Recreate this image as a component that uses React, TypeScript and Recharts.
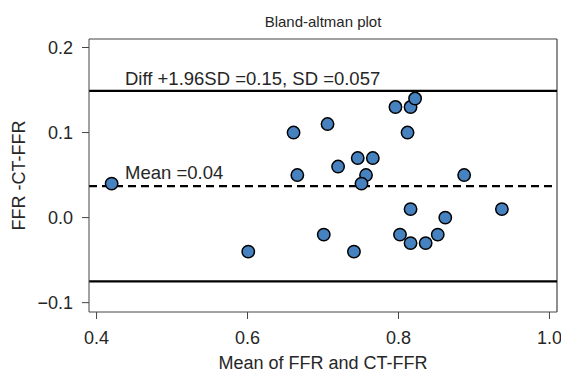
import React from 'react';
import {
  ScatterChart,
  Scatter,
  XAxis,
  YAxis,
  ReferenceLine,
} from 'recharts';

// Mean of FFR and CT-FFR
const meanValues = [
  0.42, 0.661, 0.706, 0.796, 0.816, 0.822, 0.812, 0.746, 0.766, 0.72, 0.666, 0.757,
  0.751, 0.887, 0.816, 0.937, 0.862, 0.701, 0.802, 0.852, 0.816, 0.836, 0.601, 0.741,
];
// FFR - CT-FFR
const diffValues = [
  0.04, 0.1, 0.11, 0.13, 0.13, 0.14, 0.1, 0.07, 0.07, 0.06, 0.05, 0.05,
  0.04, 0.05, 0.01, 0.01, 0.0, -0.02, -0.02, -0.02, -0.03, -0.03, -0.04, -0.04,
];

const meanDiff = 0.037;
const upperLimit = 0.149;
const lowerLimit = -0.075;

const xTicks = [0.4, 0.6, 0.8, 1.0];
const yTicks = [-0.1, 0.0, 0.1, 0.2];
const xDomain = [0.39, 1.01];
const yDomain = [-0.111, 0.21];

const titleText = 'Bland-altman plot';
const xLabel = 'Mean of FFR and CT-FFR';
const yLabel = 'FFR -CT-FFR';
const upperText = 'Diff +1.96SD =0.15, SD =0.057';
const meanText = 'Mean =0.04';

const data = meanValues.map((m, i) => ({ x: m, y: diffValues[i] }));

const FONT = '"Liberation Sans", Arial, Helvetica, sans-serif';
const TEXT = '#262626';
const AXIS = '#444444';
const FS = 18;

const fmtY = (v: number) => (v < 0 ? '\u2212' + Math.abs(v).toFixed(1) : v.toFixed(1));
const fmtX = (v: number) => v.toFixed(1);

const Dot = (p: any) => (
  <circle cx={p.cx} cy={p.cy} r={6.2} fill="#4682c0" stroke="#000" strokeWidth={1.5} />
);

export default function App() {
  return (
    <div style={{ position: 'absolute', left: 0, top: 0, width: 561, height: 373, background: '#fff' }}>
      <ScatterChart
        width={561}
        height={373}
        margin={{ top: 39, right: 4, bottom: 0, left: 0 }}
        style={{ fontFamily: FONT }}
      >
        <XAxis
          type="number"
          dataKey="x"
          domain={xDomain}
          ticks={xTicks}
          tickFormatter={fmtX}
          allowDataOverflow
          height={61}
          tickSize={7}
          tickMargin={12}
          stroke={AXIS}
          tick={{ fill: TEXT, fontSize: FS, fontFamily: FONT }}
          label={{ value: xLabel, position: 'insideBottom', offset: 4, fill: TEXT, fontSize: FS, fontFamily: FONT }}
        />
        <YAxis
          type="number"
          dataKey="y"
          domain={yDomain}
          ticks={yTicks}
          tickFormatter={fmtY}
          allowDataOverflow
          width={89}
          tickSize={7}
          tickMargin={9}
          stroke={AXIS}
          tick={{ fill: TEXT, fontSize: FS, fontFamily: FONT }}
          label={{
            content: (props: any) => {
              const vb = props.viewBox || {};
              const cx = 19;
              const cy = vb.y + vb.height / 2;
              return (
                <text
                  x={cx}
                  y={cy}
                  transform={`rotate(-90, ${cx}, ${cy})`}
                  textAnchor="middle"
                  dominantBaseline="central"
                  fill={TEXT}
                  fontSize={FS}
                  fontFamily={FONT}
                >
                  {yLabel}
                </text>
              );
            },
          }}
        />
        <ReferenceLine
          y={yDomain[1]}
          stroke={AXIS}
          strokeWidth={1.2}
          label={{
            content: (props: any) => {
              const vb = props.viewBox || {};
              return (
                <text
                  x={vb.x + vb.width / 2}
                  y={vb.y - 12}
                  textAnchor="middle"
                  fill={TEXT}
                  fontSize={15}
                  fontFamily={FONT}
                >
                  {titleText}
                </text>
              );
            },
          }}
        />
        <ReferenceLine x={xDomain[1]} stroke={AXIS} strokeWidth={1.2} />
        <ReferenceLine
          y={upperLimit}
          stroke="#000"
          strokeWidth={2.2}
          label={{
            content: (props: any) => {
              const vb = props.viewBox || {};
              return (
                <text x={vb.x + 36} y={vb.y - 6} fill={TEXT} fontSize={18.5} fontFamily={FONT}>
                  {upperText}
                </text>
              );
            },
          }}
        />
        <ReferenceLine
          y={meanDiff}
          stroke="#000"
          strokeWidth={2.2}
          strokeDasharray="8 5"
          label={{
            content: (props: any) => {
              const vb = props.viewBox || {};
              return (
                <text x={vb.x + 36} y={vb.y - 7} fill={TEXT} fontSize={18.5} fontFamily={FONT}>
                  {meanText}
                </text>
              );
            },
          }}
        />
        <ReferenceLine y={lowerLimit} stroke="#000" strokeWidth={2.2} />
        <Scatter data={data} shape={Dot} isAnimationActive={false} />
      </ScatterChart>
    </div>
  );
}
